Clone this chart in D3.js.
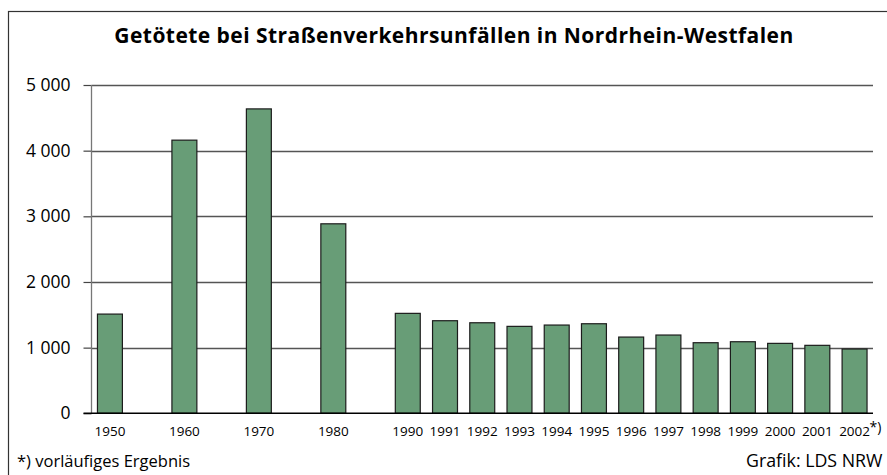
<!DOCTYPE html>
<html>
<head>
<meta charset="utf-8">
<script src="https://cdn.jsdelivr.net/npm/d3@7"></script>
<style>
  html, body { margin: 0; padding: 0; background: #fff; }
  svg { display: block; font-family: 'Open Sans', 'Noto Sans', sans-serif; }
</style>
</head>
<body>
<svg id="chart" width="887" height="475"></svg>
<script>
// slots include the skipped half-decades so the spacing matches the original
const slots = ['1950', '1955', '1960', '1965', '1970', '1975', '1980', '1985',
  '1990', '1991', '1992', '1993', '1994', '1995', '1996', '1997', '1998', '1999',
  '2000', '2001', '2002'];
const years = ['1950', '1960', '1970', '1980', '1990', '1991', '1992', '1993', '1994',
  '1995', '1996', '1997', '1998', '1999', '2000', '2001', '2002'];
const deaths = [1511, 4160, 4636, 2886, 1522, 1410, 1379, 1324, 1344,
  1364, 1161, 1192, 1075, 1090, 1065, 1035, 979];
const yTicks = [0, 1000, 2000, 3000, 4000, 5000];

const title = 'Getötete bei Straßenverkehrsunfällen in Nordrhein-Westfalen';
const note = '*) vorläufiges Ergebnis';
const source = 'Grafik: LDS NRW';

const svg = d3.select('#chart');
const plotLeft = 91.5, plotRight = 873, plotTop = 85, plotBottom = 413.3;

svg.append('rect')
  .attr('x', 8.5).attr('y', 11.5).attr('width', 900).attr('height', 500)
  .attr('fill', 'none').attr('stroke', '#333').attr('stroke-width', 1.2);

svg.append('text')
  .attr('x', 454).attr('y', 43)
  .attr('text-anchor', 'middle')
  .attr('font-size', 21).attr('font-weight', 'bold')
  .attr('letter-spacing', 0.45)
  .text(title);

const x = d3.scaleBand().domain(slots).range([plotLeft, plotRight]).paddingInner(0.33).paddingOuter(0.16);
const y = d3.scaleLinear().domain([0, 5000]).range([plotBottom, plotTop]);

const fmt = (v) => d3.format(',')(v).replace(',', ' ');

// gridlines and y labels
const yAxis = svg.append('g').attr('transform', `translate(${plotLeft},0)`)
  .call(d3.axisLeft(y).tickValues(yTicks).tickSize(8).tickPadding(13).tickFormat(fmt));
yAxis.select('.domain').remove();
yAxis.selectAll('.tick line').attr('stroke', '#444').attr('stroke-width', 1.2);
yAxis.selectAll('.tick text').attr('font-size', 17.5).attr('fill', '#000')
  .attr('font-family', "'Open Sans', 'Noto Sans', sans-serif");

svg.append('g').selectAll('line')
  .data(yTicks.filter((d) => d > 0))
  .join('line')
  .attr('x1', plotLeft).attr('x2', plotRight)
  .attr('y1', (d) => Math.round(y(d)) + 0.5).attr('y2', (d) => Math.round(y(d)) + 0.5)
  .attr('stroke', '#555').attr('stroke-width', 1.3);

svg.append('line')
  .attr('x1', plotLeft).attr('x2', plotLeft).attr('y1', plotTop).attr('y2', plotBottom)
  .attr('stroke', '#777').attr('stroke-width', 1.3);

// bars
svg.append('g').selectAll('rect')
  .data(years.map((year, i) => ({ year, value: deaths[i] })))
  .join('rect')
  .attr('x', (d) => x(d.year))
  .attr('width', x.bandwidth())
  .attr('y', (d) => y(d.value))
  .attr('height', (d) => plotBottom - y(d.value))
  .attr('fill', '#689d77')
  .attr('stroke', '#1c1c1c')
  .attr('stroke-width', 1.2);

// x axis
const xAxis = svg.append('g').attr('transform', `translate(0,${plotBottom})`)
  .call(d3.axisBottom(x).tickValues(years).tickSize(0).tickPadding(13));
xAxis.select('.domain').remove();
xAxis.selectAll('.tick text').attr('font-size', 13.5).attr('fill', '#000')
  .attr('font-family', "'Open Sans', 'Noto Sans', sans-serif");

svg.append('line')
  .attr('x1', plotLeft - 8).attr('x2', plotRight).attr('y1', plotBottom).attr('y2', plotBottom)
  .attr('stroke', '#000').attr('stroke-width', 1.5);

svg.append('text')
  .attr('x', x('2002') + x.bandwidth() / 2 + 15).attr('y', 432)
  .attr('font-size', 14).text('*)');

svg.append('text')
  .attr('x', 17).attr('y', 467).attr('font-size', 16.5).text(note);

svg.append('text')
  .attr('x', 746).attr('y', 467).attr('font-size', 17.8).text(source);
</script>
</body>
</html>
